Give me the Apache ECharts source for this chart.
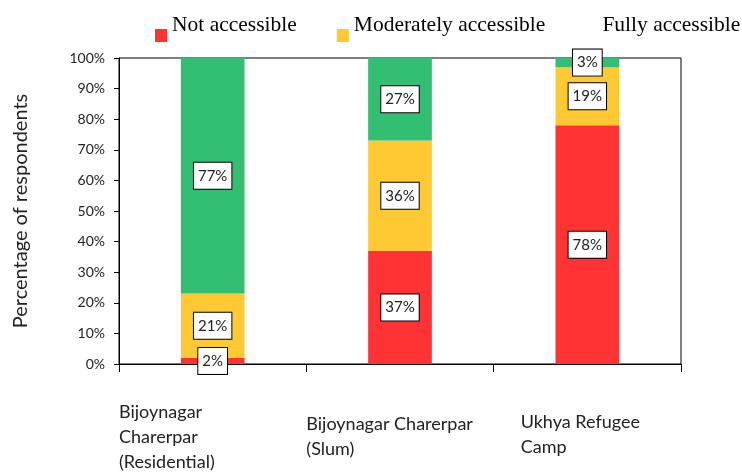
<!DOCTYPE html>
<html>
<head>
<meta charset="utf-8">
<script src="https://cdn.jsdelivr.net/npm/echarts@6/dist/echarts.min.js"></script>
<style>
  html, body { margin: 0; padding: 0; background: #fff; }
  #chart { width: 742px; height: 472px; }
</style>
</head>
<body>
<div id="chart"></div>
<script>
// data
const categories = [
  "Bijoynagar\nCharerpar\n(Residential)",
  "Bijoynagar Charerpar\n(Slum)",
  "Ukhya Refugee\nCamp",
];
const seriesNames = ["Not accessible", "Moderately accessible", "Fully accessible"];
const notAccessible = [2, 37, 78];
const moderatelyAccessible = [21, 36, 19];
const fullyAccessible = [77, 27, 3];
const yTicks = [0, 10, 20, 30, 40, 50, 60, 70, 80, 90, 100];

const colors = ["#FF3333", "#FFC933", "#33BF73"];
const labelFont = "Lato, 'Open Sans', sans-serif";

let chart = echarts.init(document.getElementById("chart"));

// label offsets for the category names, like the text boxes in the original
const labelPads = [
  [0, 0, 0, 0],
  [12, 0, 0, 0],
  [10, 0, 0, 27],
];

// square sitting low next to the legend text (tiny invisible point on top)
const lowSquare = "path://M0,0 L0.01,0 L0.01,0.01 Z M0,20 L12,20 L12,33 L0,33 Z";

function makeSeries(name, values, color) {
  return {
    name: name,
    type: "bar",
    stack: "total",
    barWidth: "34%",
    itemStyle: { color: color },
    label: {
      show: true,
      position: "inside",
      formatter: "{c}%",
      color: "#222",
      fontFamily: labelFont,
      fontSize: 15,
      backgroundColor: "#fff",
      borderColor: "#000",
      borderWidth: 1,
      padding: [6, 4, 5, 4],
    },
    data: values,
  };
}

let option = {
  animation: false,
  legend: {
    left: 155,
    top: 9,
    padding: 0,
    itemWidth: 12,
    itemHeight: 33,
    itemGap: 40,
    icon: lowSquare,
    textStyle: {
      fontFamily: "'Liberation Serif', serif",
      fontSize: 21.5,
      color: "#000",
    },
    data: [
      { name: seriesNames[0] },
      { name: seriesNames[1] },
      { name: seriesNames[2], itemStyle: { opacity: 0 } },
    ],
  },
  grid: {
    left: 119,
    right: 61,
    top: 58,
    bottom: 108,
    outerBoundsMode: "none",
    containLabel: false,
    show: true,
    borderColor: "#000",
    borderWidth: 1,
    backgroundColor: "transparent",
  },
  xAxis: [
    {
      type: "category",
      data: categories,
      position: "bottom",
      axisLine: { lineStyle: { color: "#000", width: 1 } },
      axisTick: { show: true, interval: 0, length: 8, lineStyle: { color: "#000" } },
      axisLabel: { show: false },
    },
    {
      type: "category",
      position: "bottom",
      boundaryGap: false,
      data: categories.concat([""]).map((c, i) => ({
        value: c,
        textStyle: { align: "left", padding: labelPads[i] || [0, 0, 0, 0] },
      })),
      axisLine: { show: false },
      axisTick: { show: false },
      axisLabel: {
        interval: 0,
        align: "left",
        verticalAlign: "top",
        margin: 36,
        lineHeight: 25,
        fontFamily: labelFont,
        fontSize: 18,
        color: "#222",
      },
    },
  ],
  yAxis: {
    type: "value",
    min: yTicks[0],
    max: yTicks[yTicks.length - 1],
    interval: 10,
    name: "Percentage of respondents",
    nameLocation: "middle",
    nameGap: 88,
    nameTextStyle: { fontFamily: labelFont, fontSize: 20, color: "#222" },
    axisLine: { show: true, lineStyle: { color: "#000", width: 1 } },
    axisTick: { show: true, length: 5, lineStyle: { color: "#000" } },
    splitLine: { show: false },
    axisLabel: {
      formatter: "{value}%",
      margin: 14,
      fontFamily: labelFont,
      fontSize: 14,
      color: "#222",
    },
  },
  series: [
    makeSeries(seriesNames[0], notAccessible, colors[0]),
    makeSeries(seriesNames[1], moderatelyAccessible, colors[1]),
    makeSeries(seriesNames[2], fullyAccessible, colors[2]),
  ],
};

chart.setOption(option);
</script>
</body>
</html>
